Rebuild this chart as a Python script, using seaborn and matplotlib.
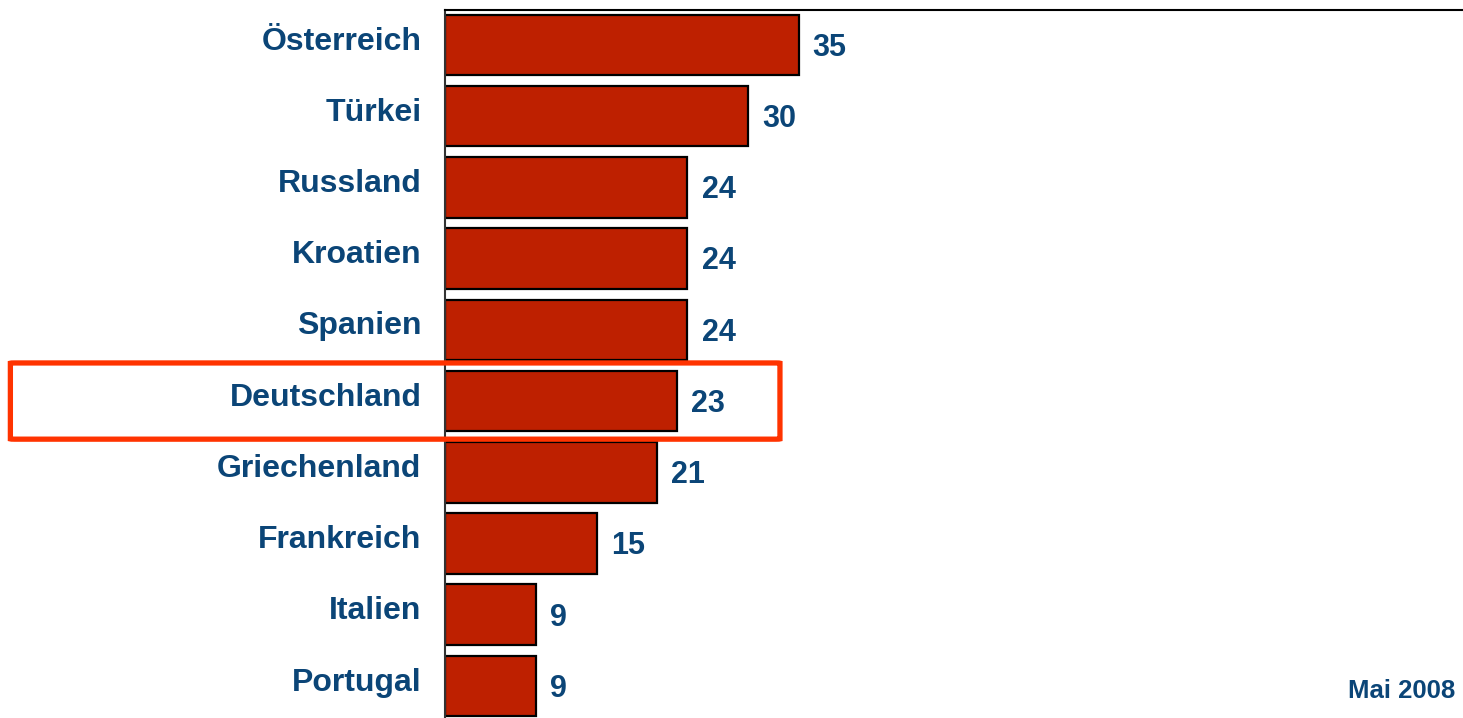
import pandas as pd
import seaborn as sns
import matplotlib.pyplot as plt
from matplotlib.patches import FancyBboxPatch
import matplotlib.transforms as mtransforms

countries = ['Österreich', 'Türkei', 'Russland', 'Kroatien', 'Spanien',
             'Deutschland', 'Griechenland', 'Frankreich', 'Italien', 'Portugal']
values = [35, 30, 24, 24, 24, 23, 21, 15, 9, 9]
highlight = 'Deutschland'
note = 'Mai 2008'

bar_color = '#BE2000'
text_color = '#0B4577'

df = pd.DataFrame({'land': countries, 'wert': values})

sns.set_style('white')
plt.rcParams['font.family'] = ['Liberation Sans', 'DejaVu Sans']

fig = plt.figure(figsize=(14.63, 7.18), dpi=100)
ax = fig.add_axes([0.3042, 0.0, 0.6958, 0.986])

sns.barplot(data=df, x='wert', y='land', orient='h', color=bar_color,
            saturation=1, width=0.85, edgecolor='black', linewidth=1.6, ax=ax)

ax.set_xlim(0, 100.8)
ax.set_ylim(9.45, -0.49)
ax.set_xlabel('')
ax.set_ylabel('')
ax.set_xticks([])
ax.tick_params(axis='y', length=0, pad=17)
shift = mtransforms.ScaledTranslation(0, 5 / 72, fig.dpi_scale_trans)
for lab in ax.get_yticklabels():
    lab.set_fontsize(23)
    lab.set_fontweight('bold')
    lab.set_color(text_color)
    lab.set_transform(lab.get_transform() + shift)

for s in ['right', 'bottom']:
    ax.spines[s].set_visible(False)
ax.spines['top'].set_color('black')
ax.spines['top'].set_linewidth(1.5)
ax.spines['left'].set_color('#333333')
ax.spines['left'].set_linewidth(1.5)

# value labels
for i, v in enumerate(values):
    ax.text(v + 1.4, i + 0.04, str(v), va='center', ha='left', fontsize=22,
            fontweight='bold', color=text_color)

# highlight box around Deutschland
idx = countries.index(highlight)
trans = mtransforms.blended_transform_factory(ax.transAxes, ax.transData)
box = FancyBboxPatch((-0.427, idx - 0.535), 0.756, 1.07,
                     boxstyle='round,pad=0,rounding_size=0.004',
                     transform=trans, fill=False, edgecolor='#FF3300',
                     linewidth=3.8, clip_on=False, zorder=5)
ax.add_patch(box)

fig.text(0.995, 0.038, note, ha='right', va='center', fontsize=18.5,
         fontweight='bold', color=text_color)

fig.savefig('out.png', dpi=100)
